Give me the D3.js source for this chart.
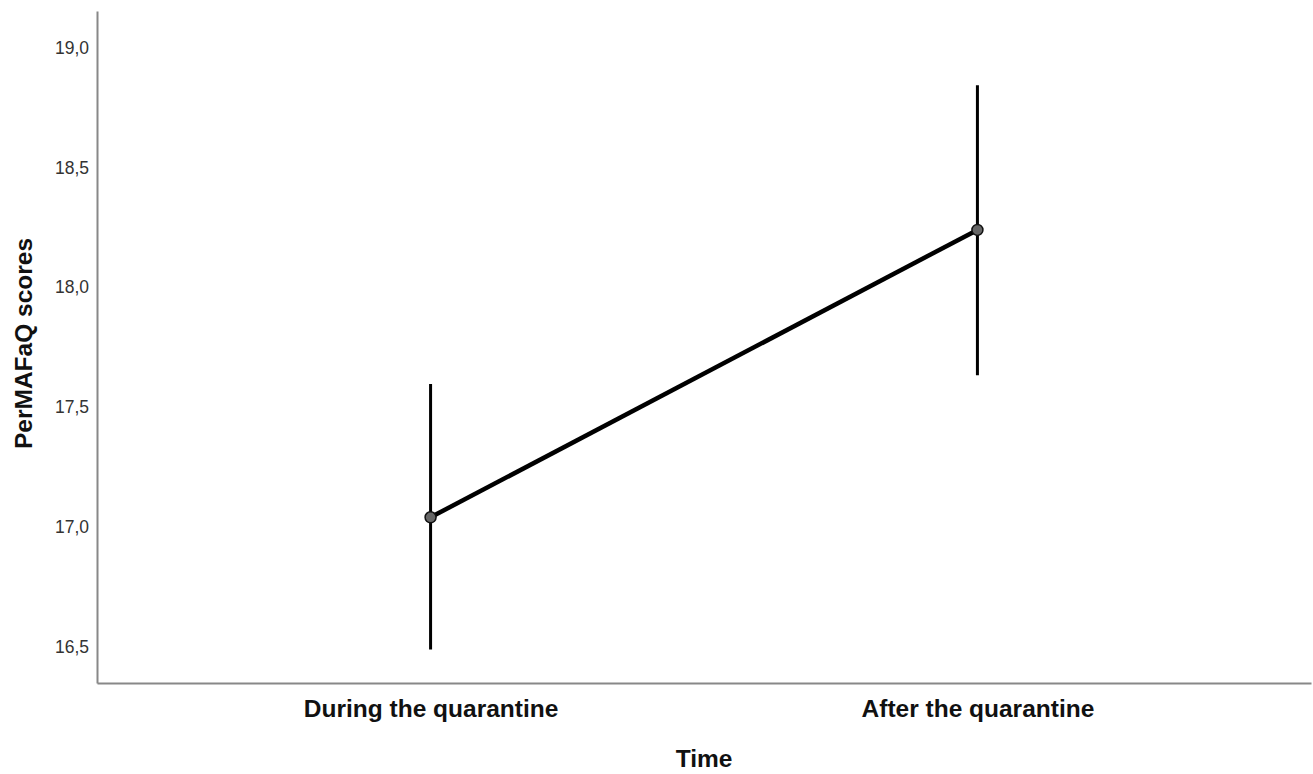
<!DOCTYPE html>
<html>
<head>
<meta charset="utf-8">
<script src="https://cdn.jsdelivr.net/npm/d3@7"></script>
<style>
  body { margin: 0; background: #fff; }
  text { font-family: "Liberation Sans", Arial, sans-serif; }
</style>
</head>
<body>
<div id="chart-container"></div>
<script>
const categories = ["During the quarantine", "After the quarantine"];
const means = [17.04, 18.24];
const upper = [17.596, 18.844];
const lower = [16.488, 17.633];
const yTicks = [16.5, 17.0, 17.5, 18.0, 18.5, 19.0];

const W = 1313, H = 774;
const margin = { top: 11, bottom: 91, right: 2, left: 97 };
const width = W - margin.left - margin.right;
const height = H - margin.top - margin.bottom;

const data = categories.map((c, i) => ({ cat: c, mean: means[i], hi: upper[i], lo: lower[i] }));

const x = d3.scalePoint().domain(categories).range([0, width]).padding(0.61);
const y = d3.scaleLinear().domain([16.348, 19.154]).range([height, 0]);

const svg = d3.select("#chart-container")
    .append("svg")
    .attr("width", W)
    .attr("height", H)
    .append("g")
    .attr("transform", `translate(${margin.left}, ${margin.top})`);

// Oś Y
const yAxis = svg.append("g")
    .call(d3.axisLeft(y).tickValues(yTicks).tickSize(0).tickPadding(8)
        .tickFormat(d => d3.format(".1f")(d).replace(".", ",")));
yAxis.select(".domain").attr("stroke", "#888").attr("stroke-width", 2);
yAxis.selectAll("text").attr("font-size", 17.5).attr("fill", "#333");

// Oś X
const xAxis = svg.append("g")
    .attr("transform", `translate(0,${height})`)
    .call(d3.axisBottom(x).tickSize(0).tickPadding(17));
xAxis.select(".domain").attr("stroke", "#888").attr("stroke-width", 2);
xAxis.selectAll("text").attr("font-size", 24.5).attr("font-weight", "bold").attr("fill", "#111");

// Tytuły osi
svg.append("text")
    .attr("x", width / 2)
    .attr("y", height + 84)
    .attr("text-anchor", "middle")
    .attr("font-size", 24.5)
    .attr("font-weight", "bold")
    .attr("fill", "#111")
    .text("Time");

svg.append("text")
    .attr("transform", `translate(${-65},${332.5}) rotate(-90)`)
    .attr("text-anchor", "middle")
    .attr("font-size", 24.5)
    .attr("font-weight", "bold")
    .attr("fill", "#111")
    .text("PerMAFaQ scores");

// Słupki błędów
svg.selectAll(".err")
    .data(data)
    .join("line")
    .attr("class", "err")
    .attr("x1", d => x(d.cat))
    .attr("x2", d => x(d.cat))
    .attr("y1", d => y(d.hi))
    .attr("y2", d => y(d.lo))
    .attr("stroke", "#000")
    .attr("stroke-width", 3);

// Linia
const line = d3.line()
    .x(d => x(d.cat))
    .y(d => y(d.mean));

svg.append("path")
    .datum(data)
    .attr("fill", "none")
    .attr("stroke", "#000")
    .attr("stroke-width", 4.5)
    .attr("d", line);

// Punkty
svg.selectAll(".pt")
    .data(data)
    .join("circle")
    .attr("class", "pt")
    .attr("cx", d => x(d.cat))
    .attr("cy", d => y(d.mean))
    .attr("r", 5.5)
    .attr("fill", "#666")
    .attr("stroke", "#111")
    .attr("stroke-width", 1.5);
</script>
</body>
</html>
